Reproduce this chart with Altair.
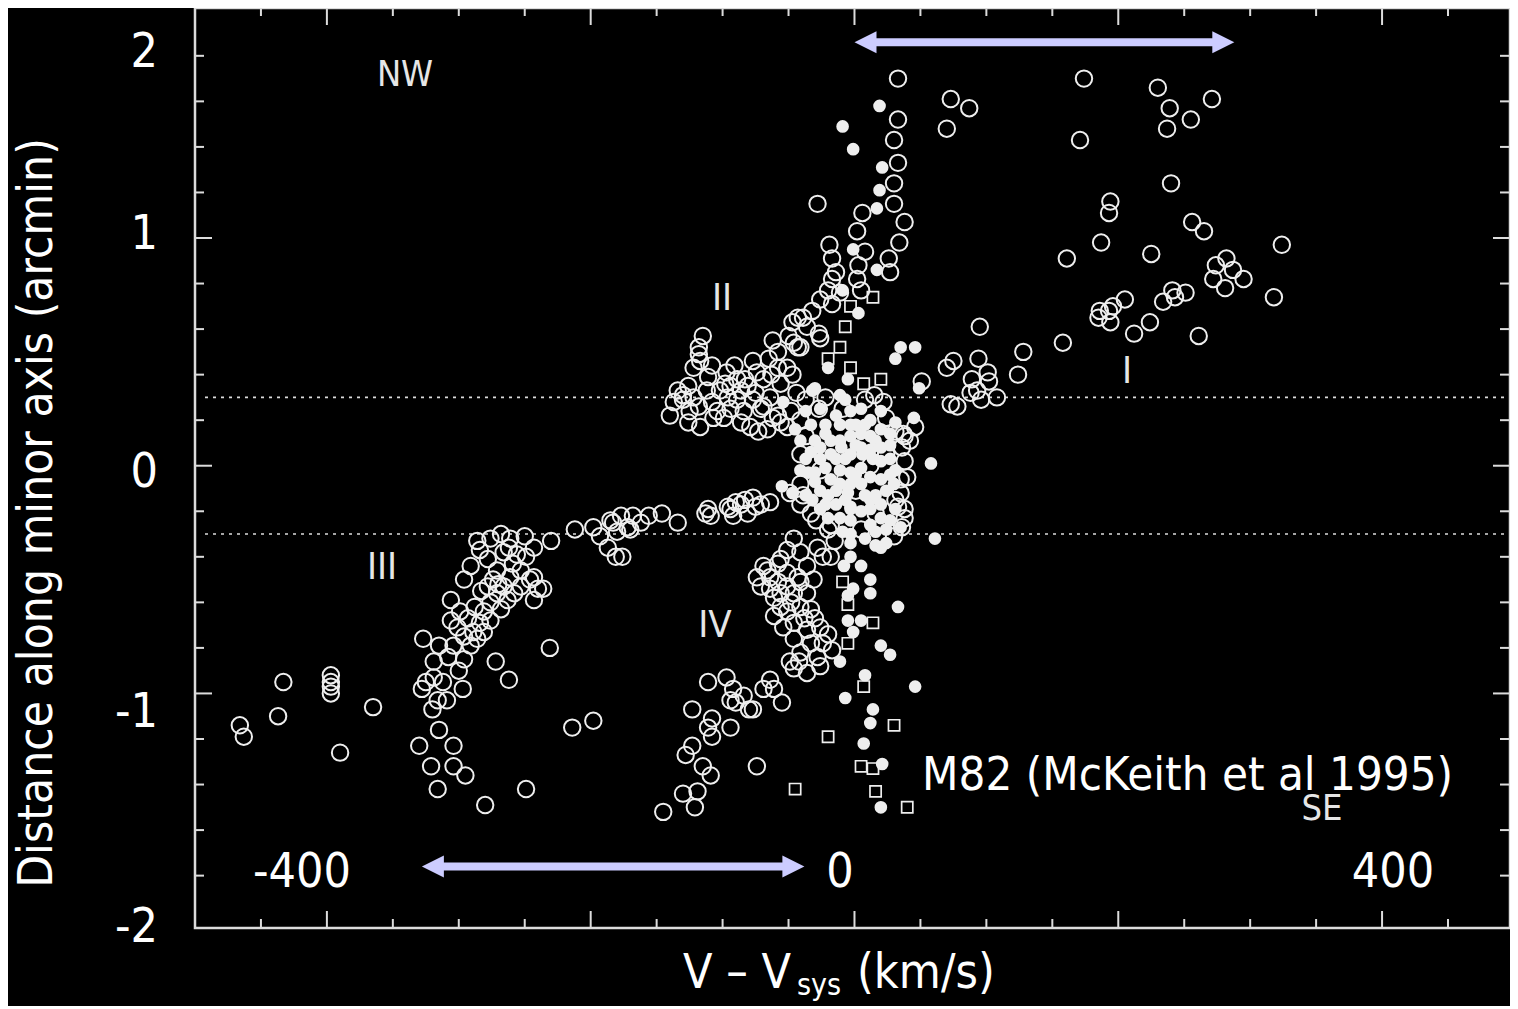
import altair as alt
import pandas as pd

# ---------------- data (V - Vsys in km/s, distance along minor axis in arcmin) ----------------
circles_upper = [(33, 1.70), (33, 1.52), (30, 1.43), (33, 1.33), (30, 1.24), (30, 1.15), (38, 1.07), (34, 0.98),
                 (26, 0.91), (27, 0.85), (-28, 1.15), (6, 1.11), (2, 1.03), (-19, 0.97), (-17, 0.91), (8, 0.94),
                 (3, 0.88), (-14, 0.85), (-17, 0.82), (2, 0.82), (-20, 0.77), (-11, 0.76), (5, 0.77), (-26, 0.73),
                 (-17, 0.71), (-32, 0.68), (-39, 0.65), (-47, 0.63), (-43, 0.65), (-27, 0.58), (-26, 0.56), (-36, 0.61)]

circles_II = [(-50, 0.57), (-43, 0.52), (-62, 0.55), (-58, 0.50), (-65, 0.47), (-51, 0.43), (-77, 0.46), (-74, 0.41),
              (-83, 0.38), (-115, 0.57), (-118, 0.52), (-118, 0.49), (-122, 0.43), (-111, 0.39), (-97, 0.41),
              (-98, 0.36), (-117, 0.46), (-126, 0.35), (-130, 0.31), (-137, 0.28), (-140, 0.22), (-126, 0.19),
              (-117, 0.17), (-118, 0.26), (-108, 0.28), (-102, 0.33), (-94, 0.35), (-89, 0.29), (-107, 0.21),
              (-99, 0.21), (-94, 0.25), (-86, 0.19), (-79, 0.17), (-89, 0.38), (-81, 0.35), (-77, 0.29), (-71, 0.25),
              (-66, 0.16), (-69, 0.38), (-58, 0.43), (-56, 0.36), (-69, 0.26), (-58, 0.22), (-56, 0.19), (-51, 0.17),
              (-73, 0.15), (-46, 0.54), (-41, 0.52), (-130, 0.29), (-122, 0.30), (-112, 0.33), (-104, 0.24),
              (-96, 0.30), (-84, 0.24), (-86, 0.33), (-75, 0.32), (-64, 0.30), (-62, 0.21), (-125, 0.24),
              (-134, 0.33), (-108, 0.44), (-91, 0.44), (-63, 0.40), (-47, 0.40), (-44, 0.32), (-48, 0.24)]

circles_I = [(73, 1.61), (87, 1.57), (70, 1.48), (174, 1.70), (230, 1.66), (239, 1.57), (237, 1.48), (171, 1.43),
             (271, 1.61), (255, 1.52), (240, 1.24), (194, 1.16), (193, 1.11), (187, 0.98), (161, 0.91), (225, 0.93),
             (256, 1.07), (265, 1.03), (324, 0.97), (274, 0.88), (282, 0.91), (287, 0.86), (272, 0.82), (281, 0.78),
             (295, 0.82), (318, 0.74), (251, 0.76), (241, 0.77), (234, 0.72), (243, 0.74), (224, 0.63), (212, 0.58),
             (261, 0.57), (205, 0.73), (196, 0.70), (186, 0.68), (185, 0.65), (194, 0.63), (193, 0.68), (158, 0.54),
             (128, 0.50), (124, 0.40), (95, 0.61), (94, 0.47), (75, 0.46), (70, 0.43), (101, 0.41), (89, 0.38),
             (102, 0.37), (51, 0.37), (93, 0.33), (88, 0.32), (108, 0.30), (96, 0.29), (73, 0.27), (78, 0.26),
             (22, 0.28), (46, 0.17), (42, 0.11), (37, 0.14)]

circles_core = [(-41, 0.20), (-27, 0.25), (-9, 0.25), (8, 0.29), (24, 0.21), (31, 0.15), (-41, 0.05), (-26, -0.02),
                (24, 0.05), (35, -0.06), (31, -0.15), (-33, -0.21), (-18, -0.26), (16, -0.21), (5, -0.28), (-7, -0.06),
                (12, 0.00), (1, -0.11), (33, -0.18), (36, -0.27), (-37, 0.29), (-22, 0.30), (15, 0.31), (-37, 0.13),
                (38, 0.13), (36, 0.08), (38, 0.02), (40, -0.05), (-41, -0.08), (35, -0.12), (38, -0.19),
                (-29, -0.24), (38, -0.23), (30, -0.31)]

circles_arm = [(-113, -0.21), (-109, -0.22), (-96, -0.18), (-90, -0.16), (-83, -0.15), (-77, -0.14), (-64, -0.16),
               (-92, -0.22), (-81, -0.21), (-75, -0.18), (-134, -0.25), (-146, -0.21), (-156, -0.22), (-162, -0.25),
               (-168, -0.22), (-172, -0.27), (-176, -0.40), (-41, -0.17), (-39, -0.13), (-212, -0.28), (-198, -0.27),
               (-193, -0.31), (-187, -0.36), (-185, -0.24), (-177, -0.22), (-180, -0.29), (-170, -0.28), (-111, -0.19),
               (-94, -0.19), (-86, -0.17), (-71, -0.17), (-49, -0.12), (-183, -0.25), (-181, -0.40)]

circles_III = [(-230, -0.33), (-243, -0.36), (-256, -0.39), (-261, -0.32), (-268, -0.30), (-276, -0.32), (-286, -0.33),
               (-284, -0.37), (-266, -0.38), (-278, -0.41), (-291, -0.44), (-296, -0.50), (-274, -0.50), (-278, -0.53),
               (-266, -0.53), (-261, -0.49), (-259, -0.43), (-253, -0.46), (-246, -0.50), (-240, -0.54), (-243, -0.59),
               (-253, -0.53), (-263, -0.59), (-268, -0.63), (-276, -0.68), (-271, -0.56), (-276, -0.60), (-281, -0.64),
               (-284, -0.69), (-289, -0.73), (-286, -0.76), (-291, -0.79), (-296, -0.75), (-301, -0.71), (-299, -0.64),
               (-304, -0.79), (-296, -0.85), (-271, -0.46), (-243, -0.49), (-236, -0.54), (-306, -0.59), (-327, -0.76),
               (-315, -0.79), (-319, -0.86), (-308, -0.84), (-319, -0.93), (-325, -0.95), (-328, -0.98), (-316, -1.03),
               (-309, -1.03), (-320, -1.07), (-297, -0.98), (-315, -1.16), (-330, -1.23), (-304, -1.23), (-321, -1.32),
               (-304, -1.32), (-295, -1.36), (-316, -1.42), (-280, -1.49), (-249, -1.42), (-272, -0.86), (-262, -0.94),
               (-231, -0.80), (-214, -1.15), (-198, -1.12), (-288, -0.62), (-283, -0.55), (-270, -0.52),
               (-258, -0.56), (-249, -0.40), (-293, -0.67), (-281, -0.73), (-306, -0.68), (-262, -0.36),
               (-250, -0.31), (-300, -0.90), (-312, -0.95)]

circles_far_left = [(-466, -1.14), (-463, -1.19), (-437, -1.10), (-433, -0.95), (-397, -0.92), (-397, -0.95),
                    (-397, -0.97), (-397, -1.00), (-390, -1.26), (-365, -1.06)]

circles_IV = [(-46, -0.32), (-51, -0.37), (-41, -0.38), (-58, -0.43), (-69, -0.44), (-74, -0.49), (-64, -0.49),
              (-51, -0.47), (-36, -0.44), (-28, -0.36), (-24, -0.40), (-20, -0.28), (-51, -0.53), (-41, -0.51),
              (-36, -0.56), (-64, -0.54), (-71, -0.53), (-18, -0.40), (-56, -0.41), (-43, -0.49), (-46, -0.56),
              (-56, -0.56), (-56, -0.62), (-61, -0.66), (-51, -0.64), (-41, -0.62), (-33, -0.63), (-46, -0.69),
              (-54, -0.71), (-36, -0.72), (-26, -0.71), (-46, -0.76), (-33, -0.78), (-24, -0.78), (-41, -0.82),
              (-28, -0.84), (-17, -0.81), (-49, -0.86), (-36, -0.91), (-26, -0.88), (-46, -0.89), (-66, -0.46),
              (-61, -0.58), (-48, -0.60), (-38, -0.67), (-30, -0.67), (-42, -0.86), (-20, -0.74), (-58, -0.51),
              (-31, -0.50), (-15, -0.33)]

circles_IV_low = [(-111, -0.95), (-97, -0.93), (-92, -0.98), (-84, -1.01), (-77, -1.07), (-94, -1.03), (-64, -0.94),
                  (-61, -0.98), (-69, -0.98), (-55, -1.04), (-123, -1.07), (-108, -1.11), (-94, -1.15), (-111, -1.15),
                  (-108, -1.19), (-123, -1.23), (-128, -1.27), (-115, -1.32), (-109, -1.36), (-130, -1.44),
                  (-119, -1.43), (-121, -1.50), (-145, -1.52), (-74, -1.32), (-80, -1.07), (-90, -1.04)]

dots_upper = [(19, 1.58), (-9, 1.49), (-1, 1.39), (21, 1.31), (19, 1.21), (17, 1.13), (-1, 0.95), (17, 0.86),
              (3, 0.67), (-9, 0.77), (-20, 0.43), (-30, 0.34), (35, 0.52), (46, 0.52), (31, 0.47), (49, 0.34),
              (-32, 0.33), (-54, 0.28), (-5, 0.38)]

dots_core = [(-7, 0.29), (5, 0.25), (-14, 0.22), (12, 0.20), (-3, 0.18), (-22, 0.18), (20, 0.16), (5, 0.14),
             (-11, 0.11), (-30, 0.11), (-41, 0.11), (27, 0.09), (12, 0.07), (-3, 0.05), (-18, 0.05), (-33, 0.06),
             (20, 0.02), (5, -0.01), (-11, -0.02), (-22, -0.01), (31, -0.02), (12, -0.05), (-3, -0.08), (-14, -0.11),
             (24, -0.11), (8, -0.13), (-7, -0.15), (-22, -0.17), (20, -0.17), (31, -0.19), (5, -0.20), (-11, -0.23),
             (12, -0.26), (24, -0.28), (-3, -0.30), (8, -0.32), (1, 0.18), (16, 0.11), (1, 0.09), (-7, 0.03),
             (6, 0.05), (20, -0.06), (1, -0.04), (12, -0.15), (-3, -0.19), (-18, -0.06), (-26, -0.11), (-32, -0.15),
             (-14, -0.17), (27, -0.24), (-18, 0.11), (8, 0.18), (27, 0.03), (16, -0.35), (-26, 0.25), (-11, 0.31),
             (-41, -0.02), (-45, 0.16), (-55, -0.09), (-47, -0.12), (-35, -0.03), (58, 0.01), (61, -0.32),
             (20, -0.36), (45, 0.21), (35, -0.27), (-37, 0.24), (-3, 0.24), (20, 0.24), (-33, 0.18), (-11, 0.18),
             (31, 0.19), (-22, 0.14), (-3, 0.13), (12, 0.13), (27, 0.14), (-26, 0.08), (-10, 0.08), (5, 0.08),
             (20, 0.08), (-37, 0.03), (-26, 0.03), (-14, 0.03), (14, 0.03), (-30, -0.03), (-3, -0.03), (27, -0.04),
             (-30, -0.07), (-11, -0.08), (5, -0.08), (30, -0.08), (-37, -0.13), (-20, -0.13), (-5, -0.12),
             (16, -0.13), (-26, -0.19), (-3, -0.18), (12, -0.19), (-20, -0.23), (-3, -0.24), (20, -0.23),
             (-9, -0.29), (16, -0.29), (-3, -0.34), (24, -0.34)]

dots_lower = [(12, -0.50), (5, -0.44), (-1, -0.54), (12, -0.56), (33, -0.62), (20, -0.79), (27, -0.83), (8, -0.92),
              (-7, -1.02), (46, -0.97), (14, -1.07), (12, -1.13), (7, -1.22), (21, -1.31), (20, -1.50), (-5, -0.57),
              (-5, -0.68), (-1, -0.73), (5, -0.68), (-8, -0.44), (-3, -0.40), (-11, -0.86)]

squares = [(14, 0.74), (-3, 0.70), (-7, 0.61), (-11, 0.52), (-20, 0.47), (-3, 0.43), (7, 0.36), (20, 0.38),
           (-9, -0.51), (-5, -0.61), (14, -0.69), (-5, -0.78), (7, -0.97), (30, -1.14), (-20, -1.19), (5, -1.32),
           (14, -1.33), (16, -1.43), (-45, -1.42), (40, -1.50)]

# axis ticks of the scanned frame
x_minor_ticks = [-450, -350, -300, -250, -150, -100, -50, 50, 100, 150, 250, 300, 350, 450]
x_major_ticks = [-400, -200, 0, 200, 400]
y_minor_ticks = [1.8, 1.6, 1.4, 1.2, 0.8, 0.6, 0.4, 0.2, -0.2, -0.4, -0.6, -0.8, -1.2, -1.4, -1.6, -1.8]
y_major_ticks = [1, 0, -1]
dotted_levels = [0.3, -0.3]

# velocity-range arrows (lavender): line extent, head tips, level
arrow_lines = [(10, 278, 1.86), (-318, -48, -1.76)]
arrow_left_tips = [(0, 1.86), (-328, -1.76)]
arrow_right_tips = [(288, 1.86), (-38, -1.76)]

# ---------------- chart ----------------
W, H = 1315, 920
xs = alt.Scale(domain=[-500, 497], nice=False, zero=False)
ys = alt.Scale(domain=[-2.03, 2.01], nice=False, zero=False)
WHITE = "#eeeeee"
FRAME = "#dcdcdc"
LAV = "#ccccff"
OVER_FONT = "DejaVu Sans Condensed, Noto Sans, sans-serif"
SCAN_FONT = "Liberation Sans Narrow, DejaVu Sans Condensed, sans-serif"


def df_pts(*groups):
    rows = [p for g in groups for p in g]
    return pd.DataFrame({"v": [r[0] for r in rows], "d": [r[1] for r in rows]})


X = alt.X("v:Q", scale=xs, axis=None)
Y = alt.Y("d:Q", scale=ys, axis=None)

circ = alt.Chart(df_pts(circles_upper, circles_II, circles_I, circles_core, circles_arm, circles_III,
                        circles_far_left, circles_IV, circles_IV_low)).mark_point(
    shape="circle", filled=False, size=270, strokeWidth=2, color=WHITE, opacity=1).encode(x=X, y=Y)

dots = alt.Chart(df_pts(dots_upper, dots_core, dots_lower)).mark_circle(
    size=160, color=WHITE, opacity=1).encode(x=X, y=Y)

sq = alt.Chart(df_pts(squares)).mark_point(
    shape="square", filled=False, size=125, strokeWidth=1.7, color=WHITE, opacity=1).encode(x=X, y=Y)

tx_min = pd.DataFrame({"v": x_minor_ticks})
tx_maj = pd.DataFrame({"v": x_major_ticks})
ty_min = pd.DataFrame({"d": y_minor_ticks})
ty_maj = pd.DataFrame({"d": y_major_ticks})


def xtick(df, y0, y1):
    return alt.Chart(df).mark_rule(color=FRAME, strokeWidth=2).encode(
        x=X, y=alt.value(y0), y2=alt.value(y1))


def ytick(df, x0, x1):
    return alt.Chart(df).mark_rule(color=FRAME, strokeWidth=2).encode(
        y=Y, x=alt.value(x0), x2=alt.value(x1))


ticks = [xtick(tx_min, H, H - 9), xtick(tx_maj, H, H - 17), xtick(tx_min, 0, 8), xtick(tx_maj, 0, 17),
         ytick(ty_min, 0, 9), ytick(ty_maj, 0, 17), ytick(ty_min, W, W - 10), ytick(ty_maj, W, W - 17)]

dotted = alt.Chart(pd.DataFrame({"d": dotted_levels})).mark_rule(
    color=FRAME, strokeWidth=1.6, strokeDash=[3, 5]).encode(y=Y, x=alt.value(10), x2=alt.value(W - 3))

arrow_df = pd.DataFrame({"v1": [a[0] for a in arrow_lines], "v2": [a[1] for a in arrow_lines],
                         "d": [a[2] for a in arrow_lines]})
arrow_line = alt.Chart(arrow_df).mark_rule(color=LAV, strokeWidth=8).encode(
    x=alt.X("v1:Q", scale=xs, axis=None), x2="v2:Q", y=Y)
head_l = alt.Chart(df_pts(arrow_left_tips)).mark_point(
    shape="M0,0L2,-1L2,1Z", filled=True, size=484, color=LAV, opacity=1).encode(x=X, y=Y)
head_r = alt.Chart(df_pts(arrow_right_tips)).mark_point(
    shape="M0,0L-2,-1L-2,1Z", filled=True, size=484, color=LAV, opacity=1).encode(x=X, y=Y)

one = pd.DataFrame({"k": [0]})


def label(text, x, y, size=48, font=OVER_FONT, align="center", angle=0, color="#ffffff"):
    return alt.Chart(one).mark_text(text=text, font=font, fontSize=size, align=align, baseline="alphabetic",
                                    angle=angle, color=color).encode(x=alt.value(x), y=alt.value(y))


SCAN = "#e6e6e6"
texts = [
    label("Distance along minor axis (arcmin)", -143, 505, size=47.5, angle=270),
    label("2", -37, 59, align="right"),
    label("1", -37, 241, align="right"),
    label("0", -37, 479, align="right"),
    label("-1", -37, 719, align="right"),
    label("-2", -37, 934, align="right"),
    label("-400", 107, 879),
    label("0", 645, 879),
    label("400", 1198, 879),
    label("V \u2013 V", 488, 980, align="left"),
    label("sys", 602, 987, size=30, align="left"),
    label("(km/s)", 662, 980, align="left"),
    label("M82 (McKeith et al 1995)", 727, 782, size=47, align="left"),
    label("NW", 210, 78, size=36, font=SCAN_FONT, color=SCAN),
    label("SE", 1127, 812, size=36, font=SCAN_FONT, color=SCAN),
    label("II", 527, 302, size=38, font=SCAN_FONT, color=SCAN),
    label("I", 932, 375, size=38, font=SCAN_FONT, color=SCAN),
    label("III", 187, 571, size=38, font=SCAN_FONT, color=SCAN),
    label("IV", 520, 629, size=38, font=SCAN_FONT, color=SCAN),
]

chart = alt.layer(dotted, *ticks, circ, sq, dots, arrow_line, head_l, head_r, *texts).properties(
    width=W, height=H,
    padding={"left": 187, "top": 0, "right": 0, "bottom": 78},
    autosize=alt.AutoSizeParams(type="none"),
).configure(background="black").configure_view(stroke=FRAME, strokeWidth=2.5, fill="black")

chart.save("out.html", embed_options={"renderer": "svg", "actions": False})
